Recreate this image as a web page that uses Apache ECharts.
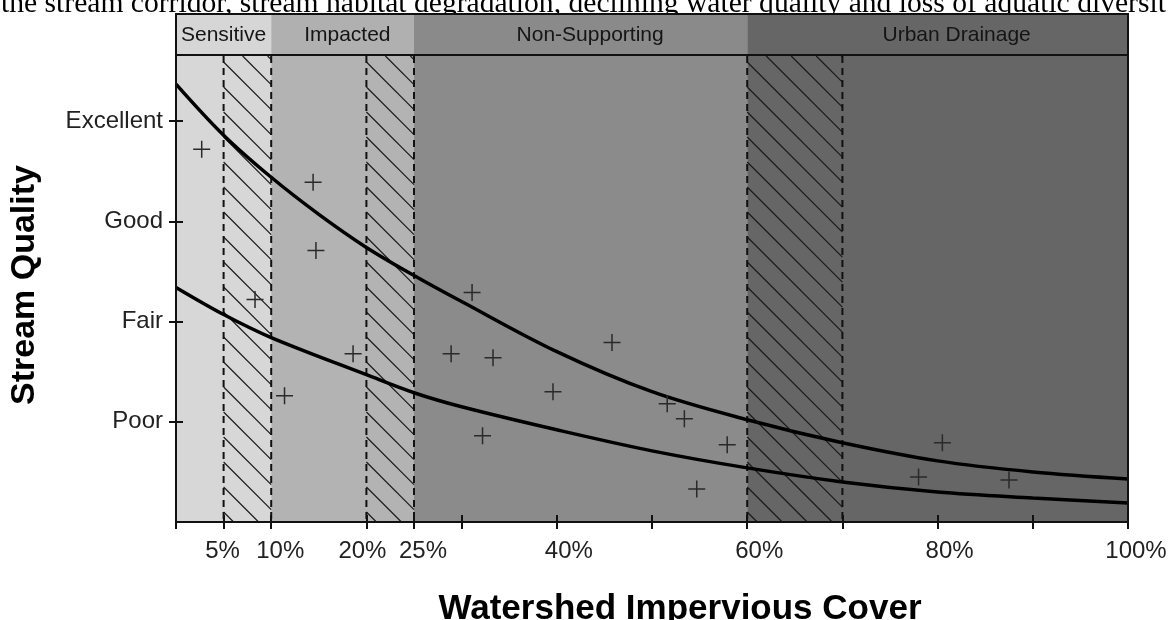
<!DOCTYPE html>
<html><head><meta charset="utf-8">
<script src="https://cdn.jsdelivr.net/npm/echarts@6/dist/echarts.min.js"></script>
<style>html,body{margin:0;padding:0;background:#fff}#c{width:1169px;height:620px}</style>
</head><body><div id="c"></div>
<script>
// ---- data ----
const captionText = 'the stream corridor, stream habitat degradation, declining water quality and loss of aquatic diversit';
const zoneNames = ['Sensitive', 'Impacted', 'Non-Supporting', 'Urban Drainage'];
const zoneStart = [0, 10, 25, 60];
const zoneEnd = [10, 25, 60, 100];
const zoneLabelAt = [5, 18, 43.5, 82];
const hatchStart = [5, 20, 60];
const hatchEnd = [10, 25, 70];
const xTickValues = [0, 5, 10, 20, 25, 30, 40, 50, 60, 70, 80, 90, 100];
const xLabelValues = [5, 10, 20, 25, 40, 60, 80, 100];
const qualityLevels = [1, 2, 3, 4];
const qualityNames = ['Poor', 'Fair', 'Good', 'Excellent'];
const upperX = [0, 5, 10, 15, 20, 25, 30, 40, 50, 60, 70, 80, 90, 100];
const upperY = [4.37, 3.86, 3.44, 3.07, 2.74, 2.46, 2.20, 1.70, 1.30, 1.02, 0.79, 0.61, 0.50, 0.43];
const lowerX = [0, 5, 10, 20, 25, 30, 40, 50, 60, 70, 80, 90, 100];
const lowerY = [2.34, 2.07, 1.84, 1.47, 1.29, 1.15, 0.92, 0.71, 0.54, 0.40, 0.30, 0.24, 0.19];
const siteX = [2.7, 14.4, 14.7, 8.3, 18.6, 11.4, 31.1, 28.9, 33.3, 45.8, 39.6, 32.2, 51.6, 53.4, 57.9, 54.7, 80.5, 78.0, 87.5];
const siteY = [3.72, 3.39, 2.71, 2.22, 1.68, 1.26, 2.29, 1.68, 1.64, 1.79, 1.30, 0.86, 1.18, 1.03, 0.77, 0.33, 0.79, 0.45, 0.42];
const yTop = 4.65;

// ---- styles ----
const zoneColors = ['#d7d7d7', '#b3b3b3', '#8b8b8b', '#666666'];
const headerColors = ['#d6d6d6', '#b0b0b0', '#8a8a8a', '#666666'];
const labelShift = { 5: -1, 10: 9, 20: -4, 25: 9, 40: 12, 60: 12, 80: 12, 100: 8 };
const sans = '"Liberation Sans", Arial, sans-serif';

const rich = {};
xLabelValues.forEach(v => {
  const s = labelShift[v] || 0;
  rich['s' + v] = { fontFamily: sans, fontSize: 24, color: '#222', padding: s >= 0 ? [0, 0, 0, 2 * s] : [0, -2 * s, 0, 0] };
});

const chart = echarts.init(document.getElementById('c'), null, {renderer: 'canvas'});

const option = {
  animation: false,
  backgroundColor: '#ffffff',
  graphic: [{
    type: 'text', x: 1, y: 19, silent: true,
    style: { text: captionText, font: '29.6px "Liberation Serif", "Times New Roman", serif', fill: '#000', verticalAlign: 'bottom' }
  }],
  grid: [
    { left: 176, right: 41, top: 14, height: 41, show: false, outerBoundsMode: 'none', containLabel: false },
    { left: 176, right: 41, top: 56, bottom: 98, show: false, outerBoundsMode: 'none', containLabel: false }
  ],
  xAxis: [
    { gridIndex: 0, type: 'value', min: 0, max: 100, show: false },
    {
      gridIndex: 1, type: 'value', min: 0, max: 100, z: 10,
      name: 'Watershed Impervious Cover', nameLocation: 'middle', nameGap: 70,
      nameTextStyle: { fontFamily: sans, fontWeight: 'bold', fontSize: 35, color: '#000', padding: [0, 0, 0, 56] },
      axisLine: { show: true, onZero: false, lineStyle: { color: '#111', width: 2 } },
      axisTick: { show: true, customValues: xTickValues, length: 7, lineStyle: { color: '#111', width: 2 } },
      axisLabel: { customValues: xLabelValues, formatter: v => '{s' + v + '|' + v + '%}', rich, margin: 17 },
      splitLine: { show: false }
    },
    {
      gridIndex: 1, type: 'value', min: 0, max: 100, z: 10, position: 'bottom',
      axisLine: { show: false },
      axisTick: { show: true, inside: true, customValues: xTickValues, length: 7, lineStyle: { color: '#111', width: 2 } },
      axisLabel: { show: false }, splitLine: { show: false }
    }
  ],
  yAxis: [
    { gridIndex: 0, type: 'value', min: 0, max: 1, show: false },
    {
      gridIndex: 1, type: 'value', min: 0, max: yTop, z: 10, position: 'left',
      name: 'Stream Quality', nameLocation: 'middle', nameGap: 134, nameRotate: 90,
      nameTextStyle: { fontFamily: sans, fontWeight: 'bold', fontSize: 34, color: '#000', padding: [0, 0, 0, 8] },
      axisLine: { show: true, onZero: false, lineStyle: { color: '#111', width: 2 } },
      axisTick: { show: true, customValues: qualityLevels, length: 7, lineStyle: { color: '#111', width: 2 } },
      axisLabel: { customValues: qualityLevels, formatter: v => qualityNames[qualityLevels.indexOf(v)], fontFamily: sans, fontSize: 24, color: '#222', margin: 13 },
      splitLine: { show: false }
    },
    {
      gridIndex: 1, type: 'value', min: 0, max: yTop, z: 10, position: 'left',
      axisLine: { show: false },
      axisTick: { show: true, inside: true, customValues: qualityLevels, length: 7, lineStyle: { color: '#111', width: 2 } },
      axisLabel: { show: false }, splitLine: { show: false }
    },
    {
      gridIndex: 1, type: 'value', min: 0, max: yTop, z: 10, position: 'right',
      axisLine: { show: true, onZero: false, lineStyle: { color: '#111', width: 2 } },
      axisTick: { show: false }, axisLabel: { show: false }, splitLine: { show: false }
    }
  ],
  series: [
    {
      type: 'custom', xAxisIndex: 0, yAxisIndex: 0, silent: true, z: 2, clip: false,
      data: zoneStart.map((s, i) => [s, zoneEnd[i], zoneLabelAt[i], i]),
      renderItem: (params, api) => {
        const i = api.value(3);
        const a = api.coord([api.value(0), 1]);
        const b = api.coord([api.value(1), 0]);
        const t = api.coord([api.value(2), 0.5]);
        return { type: 'group', children: [
          { type: 'rect', shape: { x: a[0], y: a[1], width: b[0] - a[0], height: b[1] - a[1] }, style: { fill: headerColors[i] } },
          { type: 'text', x: t[0], y: t[1] + 1, style: { text: zoneNames[i], font: '21px ' + sans, fill: '#151515', align: 'center', verticalAlign: 'middle' } }
        ]};
      }
    },
    {
      type: 'custom', xAxisIndex: 0, yAxisIndex: 0, silent: true, z: 3, clip: false,
      data: [[0, 100]],
      renderItem: (params, api) => {
        const a = api.coord([api.value(0), 1]);
        const b = api.coord([api.value(1), 0]);
        return { type: 'rect', shape: { x: a[0], y: a[1], width: b[0] - a[0], height: b[1] - a[1] }, style: { fill: 'none', stroke: '#111', lineWidth: 2 } };
      }
    },
    {
      type: 'custom', xAxisIndex: 1, yAxisIndex: 1, silent: true, z: 1,
      data: zoneStart.map((s, i) => [s, zoneEnd[i], i]),
      renderItem: (params, api) => {
        const i = api.value(2);
        const a = api.coord([api.value(0), yTop]);
        const b = api.coord([api.value(1), 0]);
        return { type: 'rect', shape: { x: a[0], y: a[1], width: b[0] - a[0], height: b[1] - a[1] }, style: { fill: zoneColors[i] } };
      }
    },
    {
      type: 'custom', xAxisIndex: 1, yAxisIndex: 1, silent: true, z: 2,
      data: hatchStart.map((s, i) => [s, hatchEnd[i]]),
      renderItem: (params, api) => {
        const a = api.coord([api.value(0), yTop]);
        const b = api.coord([api.value(1), 0]);
        const L = a[0], R = b[0], T = a[1], B = b[1];
        const step = 25;
        const children = [];
        let c = T + 6 - L;
        while (c > T - R) c -= step;
        for (; c < B - L; c += step) {
          let x1 = L, y1 = L + c;
          if (y1 < T) { y1 = T; x1 = T - c; }
          let x2 = R, y2 = R + c;
          if (y2 > B) { y2 = B; x2 = B - c; }
          if (x2 > x1) children.push({ type: 'line', shape: { x1, y1, x2, y2 }, style: { stroke: '#1a1a1a', lineWidth: 1.2 } });
        }
        [L, R].forEach(x => children.push({ type: 'line', shape: { x1: x, y1: T, x2: x, y2: B }, style: { stroke: '#111', lineWidth: 2, lineDash: [7, 5] } }));
        return { type: 'group', children };
      }
    },
    {
      type: 'line', xAxisIndex: 1, yAxisIndex: 1, z: 5, smooth: 0.35, showSymbol: false, silent: true,
      data: upperX.map((x, i) => [x, upperY[i]]),
      lineStyle: { color: '#000', width: 3.5 }
    },
    {
      type: 'line', xAxisIndex: 1, yAxisIndex: 1, z: 5, smooth: 0.35, showSymbol: false, silent: true,
      data: lowerX.map((x, i) => [x, lowerY[i]]),
      lineStyle: { color: '#000', width: 3.5 }
    },
    {
      type: 'scatter', xAxisIndex: 1, yAxisIndex: 1, z: 6, silent: true,
      symbol: 'path://M8,0L8,16M0,8L16,8', symbolSize: 17,
      data: siteX.map((x, i) => [x, siteY[i]]),
      itemStyle: { color: 'rgba(0,0,0,0)', borderColor: '#2a2a2a', borderWidth: 1.5, opacity: 1 }
    }
  ]
};
chart.setOption(option);
</script>
</body></html>
